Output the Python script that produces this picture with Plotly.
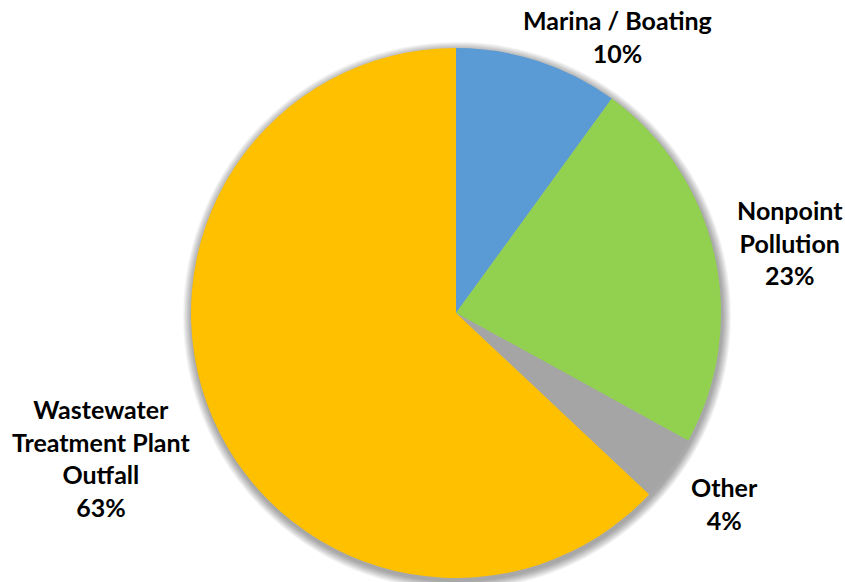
import plotly.graph_objects as go

labels = ["Marina / Boating", "Nonpoint Pollution", "Other", "Wastewater Treatment Plant Outfall"]
values = [10, 23, 4, 63]
label_lines = [["Marina / Boating"], ["Nonpoint", "Pollution"], ["Other"], ["Wastewater", "Treatment Plant", "Outfall"]]
colors = ["#5B9BD5", "#92D050", "#A5A5A5", "#FFC000"]

W, H = 845, 582
cx, cy, r = 456, 313, 265

# label anchor centres (pixels, top-left origin) - layout only
label_pos = [(617, 36), (790, 242), (724, 503), (101, 458)]

def dom(cxp, cyp, rp):
    return dict(x=[(cxp - rp) / W, (cxp + rp) / W],
                y=[(H - cyp - rp) / H, (H - cyp + rp) / H])

fig = go.Figure()

# soft shadow approximation (layout shapes beneath the pie)
for k in range(9, 0, -1):
    sx, sy, sr = cx + 1, cy + 3, r + k
    fig.add_shape(type="circle", xref="paper", yref="paper", layer="below",
                  x0=(sx - sr) / W, x1=(sx + sr) / W,
                  y0=1 - (sy + sr) / H, y1=1 - (sy - sr) / H,
                  fillcolor="rgba(0,0,0,0.045)", line=dict(width=0))

fig.add_trace(go.Pie(
    labels=labels, values=values, sort=False, direction="clockwise", rotation=0,
    marker=dict(colors=colors, line=dict(width=0)),
    textinfo="none", hoverinfo="label+percent", showlegend=False,
    domain=dom(cx, cy, r)))

total = sum(values)
for (px, py), lines, v in zip(label_pos, label_lines, values):
    txt = "<br>".join(lines + [f"{round(100 * v / total)}%"])
    fig.add_annotation(x=px / W, y=1 - py / H, xref="paper", yref="paper",
                       text=txt, showarrow=False, xanchor="center", yanchor="middle",
                       align="center",
                       font=dict(family="Lato", size=25, color="#000000", weight="bold"))

fig.update_layout(width=W, height=H, margin=dict(l=0, r=0, t=0, b=0),
                  paper_bgcolor="white", plot_bgcolor="white")

fig.write_html("out.html")
